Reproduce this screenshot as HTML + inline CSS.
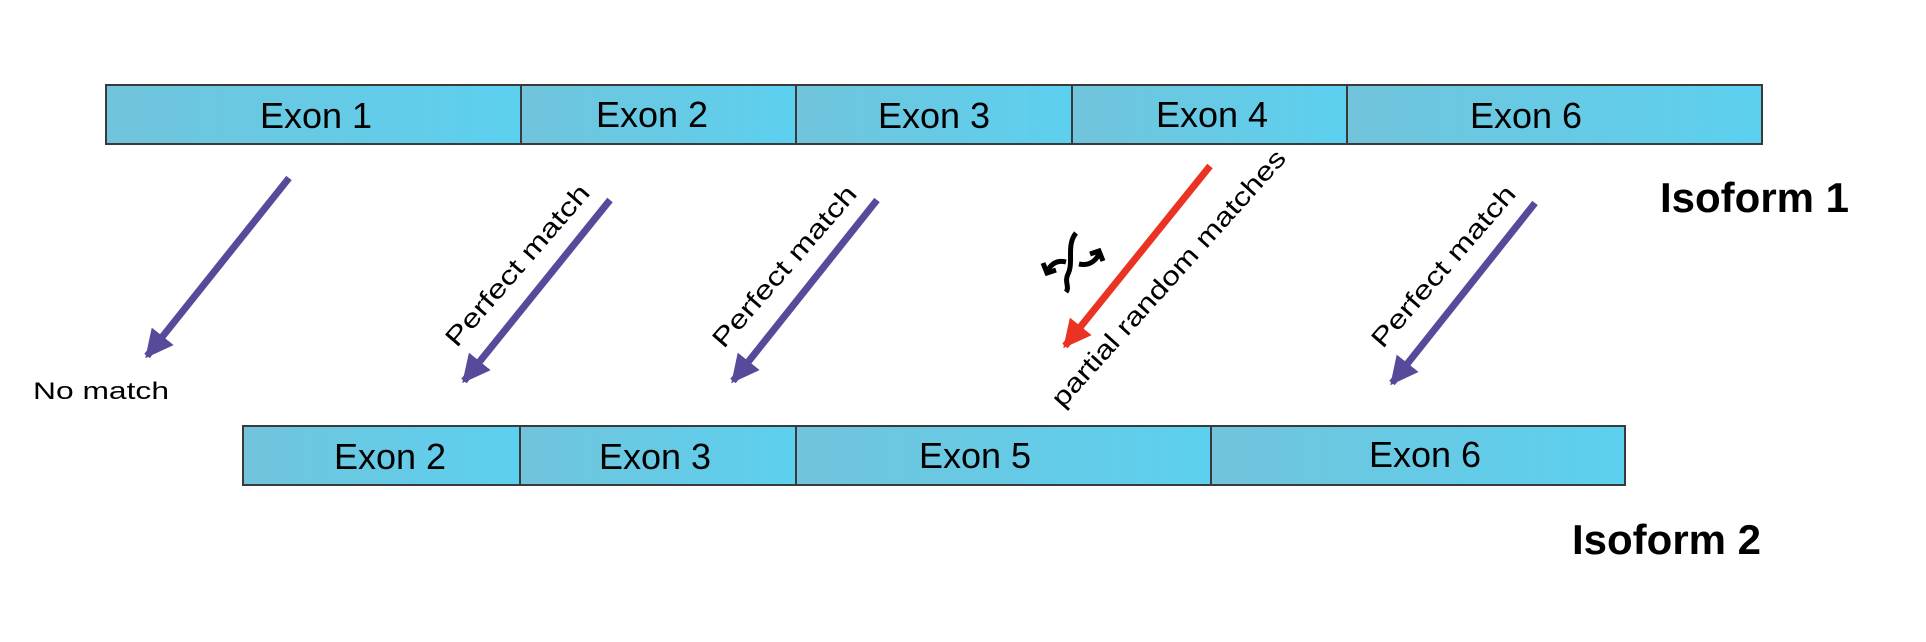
<!DOCTYPE html>
<html><head><meta charset="utf-8"><style>
body{margin:0;background:#fff;width:1926px;height:642px;overflow:hidden}
svg{display:block}
text{font-family:"Liberation Sans",sans-serif}
</style></head><body>
<svg width="1926" height="642" viewBox="0 0 1926 642">
<defs>
<linearGradient id="g" x1="0" x2="1" y1="0" y2="0"><stop offset="0" stop-color="#71c4db"/><stop offset="1" stop-color="#5cd0ef"/></linearGradient>
<marker id="ab" viewBox="0 0 10 10" refX="9" refY="5" markerWidth="4" markerHeight="4" orient="auto"><path d="M0,0 L10,5 L0,10 z" fill="#574a9a"/></marker>
<marker id="ar" viewBox="0 0 10 10" refX="9" refY="5" markerWidth="4" markerHeight="4" orient="auto"><path d="M0,0 L10,5 L0,10 z" fill="#ea3323"/></marker>
</defs>
<g stroke="#3a3a3a" stroke-width="2">
<rect x="106" y="85" width="415" height="59" fill="url(#g)"/>
<rect x="521" y="85" width="275" height="59" fill="url(#g)"/>
<rect x="796" y="85" width="276" height="59" fill="url(#g)"/>
<rect x="1072" y="85" width="275" height="59" fill="url(#g)"/>
<rect x="1347" y="85" width="415" height="59" fill="url(#g)"/>
<rect x="243" y="426" width="277" height="59" fill="url(#g)"/>
<rect x="520" y="426" width="276" height="59" fill="url(#g)"/>
<rect x="796" y="426" width="415" height="59" fill="url(#g)"/>
<rect x="1211" y="426" width="414" height="59" fill="url(#g)"/>
</g>
<g font-size="36" text-anchor="middle" fill="#000">
<text x="316" y="128">Exon 1</text>
<text x="652" y="127">Exon 2</text>
<text x="934" y="128">Exon 3</text>
<text x="1212" y="127">Exon 4</text>
<text x="1526" y="128">Exon 6</text>
<text x="390" y="469">Exon 2</text>
<text x="655" y="469">Exon 3</text>
<text x="975" y="468">Exon 5</text>
<text x="1425" y="467">Exon 6</text>
</g>
<text x="1660" y="212" font-size="42" font-weight="bold">Isoform 1</text>
<text x="1572" y="554" font-size="42" font-weight="bold">Isoform 2</text>
<g stroke-width="7" fill="none">
<line x1="289" y1="178" x2="147" y2="356" stroke="#574a9a" marker-end="url(#ab)"/>
<line x1="610" y1="200" x2="464" y2="381" stroke="#574a9a" marker-end="url(#ab)"/>
<line x1="877" y1="200" x2="733" y2="381" stroke="#574a9a" marker-end="url(#ab)"/>
<line x1="1210" y1="166" x2="1065" y2="346" stroke="#ea3323" marker-end="url(#ar)"/>
<line x1="1535" y1="203" x2="1392" y2="383" stroke="#574a9a" marker-end="url(#ab)"/>
</g>
<text x="33" y="399" font-size="24" textLength="136" lengthAdjust="spacingAndGlyphs">No match</text>
<g font-size="26" text-anchor="middle">
<text transform="translate(524,271) rotate(-49)" textLength="205" lengthAdjust="spacingAndGlyphs">Perfect match</text>
<text transform="translate(791,272) rotate(-49)" textLength="205" lengthAdjust="spacingAndGlyphs">Perfect match</text>
<text transform="translate(1450,272) rotate(-49)" textLength="205" lengthAdjust="spacingAndGlyphs">Perfect match</text>
<text transform="translate(1175,284) rotate(-48)" textLength="336" lengthAdjust="spacingAndGlyphs">partial random matches</text>
</g>
<g stroke="#000" stroke-width="5" fill="none">
<path d="M1076,233 C1066,245 1074,262 1068,274 C1064,282 1070,287 1066,292"/>
<path d="M1066,262 C1058,260 1052,263 1048,270"/>
<path d="M1043,263 L1047,273 L1056,270"/>
<path d="M1079,264 C1088,266 1095,262 1099,254"/>
<path d="M1103,261 L1099,251 L1090,254"/>
</g>
</svg>
</body></html>
